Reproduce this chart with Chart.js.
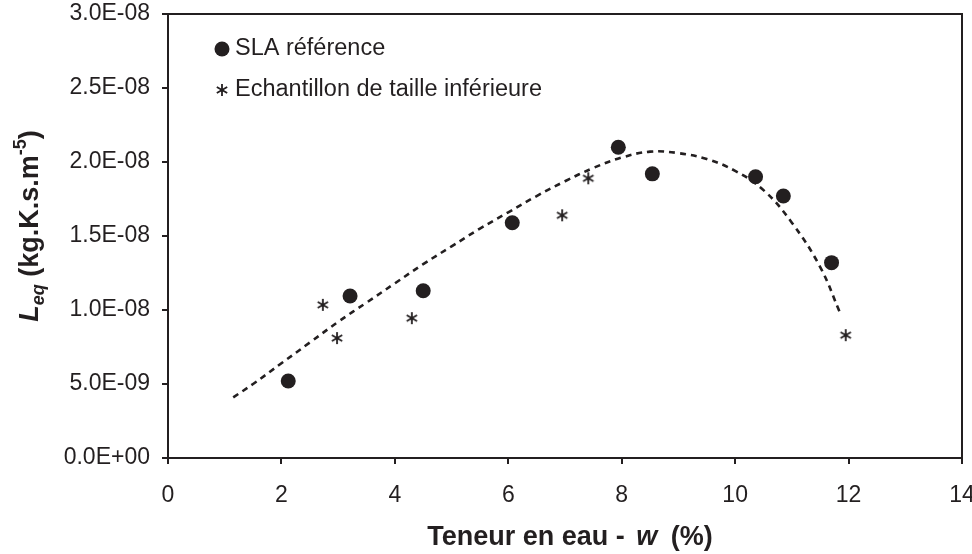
<!DOCTYPE html>
<html lang="fr">
<head>
<meta charset="utf-8">
<title>Leq en fonction de la teneur en eau</title>
<script src="https://cdn.jsdelivr.net/npm/chart.js@4/dist/chart.umd.min.js"></script>
<style>
  html, body { margin: 0; padding: 0; background: #ffffff; }
  #wrap { width: 972px; height: 554px; }
</style>
</head>
<body>
<div id="wrap"><canvas id="chart" width="972" height="554"></canvas></div>
<script>
// Teneur en eau w (%) et Leq (kg.K.s.m-5)
const slaW = [2.12, 3.21, 4.50, 6.07, 7.94, 8.54, 10.36, 10.85, 11.70];
const slaL = [5.2e-9, 1.095e-8, 1.13e-8, 1.59e-8, 2.10e-8, 1.92e-8, 1.90e-8, 1.77e-8, 1.32e-8];

const smallW = [2.73, 2.98, 4.30, 6.95, 7.41, 11.95];
const smallL = [1.035e-8, 8.1e-9, 9.45e-9, 1.64e-8, 1.89e-8, 8.3e-9];

// Courbe de tendance (pointillés)
const trendW = [1.15, 1.5, 2.0, 2.5, 3.0, 3.5, 4.0, 4.5, 5.0, 5.5, 6.0, 6.5, 7.0, 7.5, 8.0, 8.5, 9.0, 9.5, 10.0, 10.5, 11.0, 11.5, 11.85];
const trendL = [4.1e-9, 5.0e-9, 6.4e-9, 7.8e-9, 9.2e-9, 1.05e-8, 1.18e-8, 1.31e-8, 1.43e-8, 1.55e-8, 1.66e-8, 1.77e-8, 1.87e-8, 1.96e-8, 2.03e-8, 2.07e-8, 2.06e-8, 2.02e-8, 1.94e-8, 1.81e-8, 1.59e-8, 1.29e-8, 9.8e-9];

const xTicks = [0, 2, 4, 6, 8, 10, 12, 14];
const yTicks = [0, 5e-9, 1e-8, 1.5e-8, 2e-8, 2.5e-8, 3e-8];

const seriesNames = ['SLA référence', 'Echantillon de taille inférieure'];

const INK = '#231f20';
const FONT = '"Liberation Sans", Arial, sans-serif';

function pairs(xs, ys) { return xs.map((x, i) => ({ x: x, y: ys[i] })); }

// Format 3.0E-08
function sci(v) {
  if (Math.abs(v) < 1e-30) return '0.0E+00';
  const e = Math.floor(Math.log10(Math.abs(v)) + 1e-9);
  const m = v / Math.pow(10, e);
  const sign = e < 0 ? '-' : '+';
  const ee = String(Math.abs(e)).padStart(2, '0');
  return m.toFixed(1) + 'E' + sign + ee;
}

// Asterisk marker: vertical stroke plus two diagonals
function makeAsterisk(size) {
  const c = document.createElement('canvas');
  c.width = size; c.height = size;
  const g = c.getContext('2d');
  const h = size / 2, r = size / 2 - 1;
  g.strokeStyle = INK;
  g.lineWidth = 1.8;
  g.beginPath();
  g.moveTo(h, h - r); g.lineTo(h, h + r);
  const d = r * Math.cos(Math.PI / 6), s = r * Math.sin(Math.PI / 6);
  g.moveTo(h - d, h - s); g.lineTo(h + d, h + s);
  g.moveTo(h - d, h + s); g.lineTo(h + d, h - s);
  g.stroke();
  return c;
}
const asterisk = makeAsterisk(14);

const frameAndTitles = {
  id: 'frameAndTitles',
  afterDraw(chart) {
    const ctx = chart.ctx;
    const a = chart.chartArea;
    ctx.save();
    // frame
    ctx.strokeStyle = INK;
    ctx.lineWidth = 2;
    ctx.strokeRect(a.left, a.top, a.right - a.left, a.bottom - a.top);

    // legend
    ctx.fillStyle = INK;
    ctx.font = '23.5px ' + FONT;
    ctx.textBaseline = 'middle';
    ctx.textAlign = 'left';
    ctx.beginPath();
    ctx.arc(222, 49, 7.5, 0, Math.PI * 2);
    ctx.fill();
    ctx.fillText(seriesNames[0], 235, 49);
    ctx.drawImage(asterisk, 222 - asterisk.width / 2, 90 - asterisk.height / 2);
    ctx.fillText(seriesNames[1], 235, 90);

    // x title
    ctx.textBaseline = 'alphabetic';
    const xParts = [
      ['Teneur en eau - ', 'bold 27px ' + FONT, 4],
      ['w', 'italic bold 27px ' + FONT, 6],
      [' (%)', 'bold 27px ' + FONT, 0]
    ];
    let total = 0;
    xParts.forEach(p => { ctx.font = p[1]; total += ctx.measureText(p[0]).width + p[2]; });
    let x = 570 - total / 2;
    xParts.forEach(p => { ctx.font = p[1]; ctx.fillText(p[0], x, 545); x += ctx.measureText(p[0]).width + p[2]; });

    // y title, rotated
    const yParts = [
      ['L', 'italic bold 27px ' + FONT, 0],
      ['eq', 'italic bold 18px ' + FONT, 6],
      [' (kg.K.s.m', 'bold 27px ' + FONT, 0],
      ['-5', 'bold 18px ' + FONT, -12],
      [')', 'bold 27px ' + FONT, 0]
    ];
    total = 0;
    yParts.forEach(p => { ctx.font = p[1]; total += ctx.measureText(p[0]).width; });
    ctx.translate(38, 226);
    ctx.rotate(-Math.PI / 2);
    x = -total / 2;
    yParts.forEach(p => { ctx.font = p[1]; ctx.fillText(p[0], x, p[2]); x += ctx.measureText(p[0]).width; });
    ctx.restore();
  }
};

new Chart(document.getElementById('chart'), {
  type: 'scatter',
  data: {
    datasets: [
      {
        label: seriesNames[0],
        data: pairs(slaW, slaL),
        pointStyle: 'circle',
        pointRadius: 7.5,
        pointHoverRadius: 7.5,
        backgroundColor: INK,
        borderColor: INK,
        borderWidth: 0,
        order: 1
      },
      {
        label: seriesNames[1],
        data: pairs(smallW, smallL),
        pointStyle: asterisk,
        pointRadius: 7,
        backgroundColor: INK,
        borderColor: INK,
        order: 2
      },
      {
        label: 'Tendance',
        data: pairs(trendW, trendL),
        showLine: true,
        pointRadius: 0,
        borderColor: INK,
        borderWidth: 2.6,
        borderDash: [6, 5],
        tension: 0.4,
        fill: false,
        order: 3
      }
    ]
  },
  options: {
    responsive: false,
    animation: false,
    devicePixelRatio: 1,
    layout: { padding: { left: 0, top: 14, right: 10, bottom: 0 } },
    plugins: {
      legend: { display: false },
      tooltip: { enabled: false }
    },
    scales: {
      x: {
        type: 'linear',
        min: 0,
        max: 14,
        afterBuildTicks: s => { s.ticks = xTicks.map(v => ({ value: v })); },
        afterFit: s => { s.height = 96; s.paddingLeft = 0; s.paddingRight = 0; },
        grid: { drawOnChartArea: false, drawTicks: true, tickLength: 6, color: INK, lineWidth: 2 },
        border: { display: true, color: INK, width: 2 },
        ticks: { color: INK, font: { family: FONT, size: 23 }, padding: 18, maxRotation: 0, autoSkip: false }
      },
      y: {
        type: 'linear',
        min: 0,
        max: 3e-8,
        afterBuildTicks: s => { s.ticks = yTicks.map(v => ({ value: v })); },
        afterFit: s => { s.width = 168; s.paddingTop = 0; s.paddingBottom = 0; },
        grid: { drawOnChartArea: false, drawTicks: true, tickLength: 6, color: INK, lineWidth: 2 },
        border: { display: true, color: INK, width: 2 },
        ticks: { color: INK, font: { family: FONT, size: 23 }, padding: 12, autoSkip: false, callback: v => sci(v) }
      }
    }
  },
  plugins: [frameAndTitles]
});
</script>
</body>
</html>
